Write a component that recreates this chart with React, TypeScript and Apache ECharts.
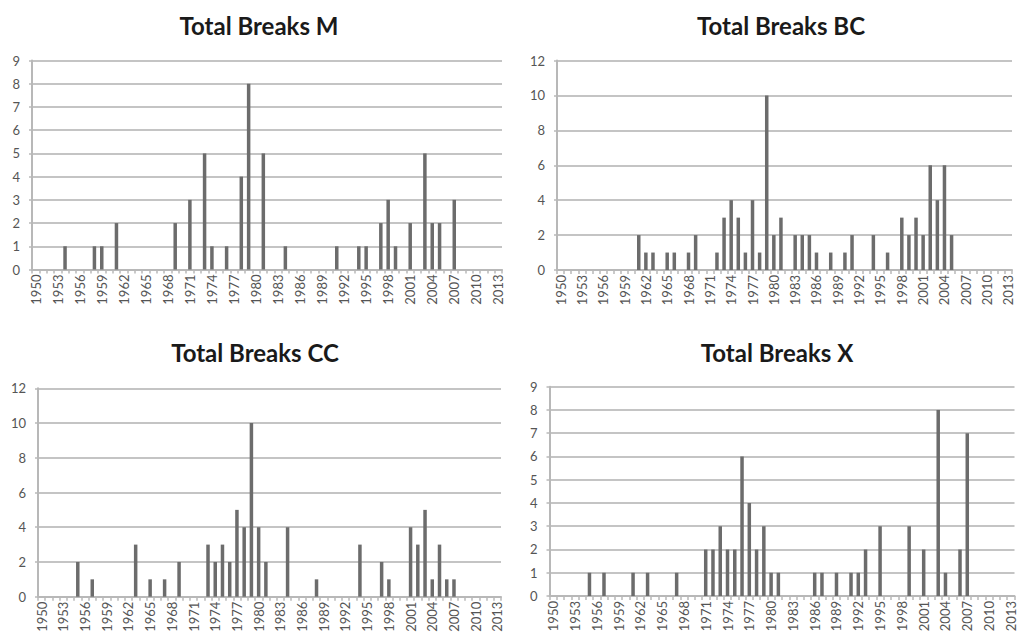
import React, { useEffect, useRef } from "react";
import * as echarts from "echarts";

const years: string[] = [
  "1950","1951","1952","1953","1954","1955","1956","1957","1958","1959",
  "1960","1961","1962","1963","1964","1965","1966","1967","1968","1969",
  "1970","1971","1972","1973","1974","1975","1976","1977","1978","1979",
  "1980","1981","1982","1983","1984","1985","1986","1987","1988","1989",
  "1990","1991","1992","1993","1994","1995","1996","1997","1998","1999",
  "2000","2001","2002","2003","2004","2005","2006","2007","2008","2009",
  "2010","2011","2012","2013",
];

const breaksM: number[] = [
  0,0,0,0,1,0,0,0,1,1,
  0,2,0,0,0,0,0,0,0,2,
  0,3,0,5,1,0,1,0,4,8,
  0,5,0,0,1,0,0,0,0,0,
  0,1,0,0,1,1,0,2,3,1,
  0,2,0,5,2,2,0,3,0,0,
  0,0,0,0,
];

const breaksBC: number[] = [
  0,0,0,0,0,0,0,0,0,0,
  0,2,1,1,0,1,1,0,1,2,
  0,0,1,3,4,3,1,4,1,10,
  2,3,0,2,2,2,1,0,1,0,
  1,2,0,0,2,0,1,0,3,2,
  3,2,6,4,6,2,0,0,0,0,
  0,0,0,0,
];

const breaksCC: number[] = [
  0,0,0,0,0,2,0,1,0,0,
  0,0,0,3,0,1,0,1,0,2,
  0,0,0,3,2,3,2,5,4,10,
  4,2,0,0,4,0,0,0,1,0,
  0,0,0,0,3,0,0,2,1,0,
  0,4,3,5,1,3,1,1,0,0,
  0,0,0,0,
];

const breaksX: number[] = [
  0,0,0,0,0,1,0,1,0,0,
  0,1,0,1,0,0,0,1,0,0,
  0,2,2,3,2,2,6,4,2,3,
  1,1,0,0,0,0,1,1,0,1,
  0,1,1,2,0,3,0,0,0,3,
  0,2,0,8,1,0,2,7,0,0,
  0,0,0,0,
];

const titles: string[] = ["Total Breaks M", "Total Breaks BC", "Total Breaks CC", "Total Breaks X"];
const yMax: number[] = [9, 12, 12, 9];
const yStep: number[] = [1, 2, 2, 1];

export default function App() {
  const ref = useRef<HTMLDivElement>(null);

  useEffect(() => {
    if (!ref.current) return;
    document.body.style.margin = "0";
    const chart = echarts.init(ref.current, undefined, { renderer: "svg" });

    const seriesData = [breaksM, breaksBC, breaksCC, breaksX];
    const grids = [
      { left: 32, top: 60.5, width: 470, height: 209 },
      { left: 557, top: 60.5, width: 455, height: 209.5 },
      { left: 38, top: 388.3, width: 463, height: 208.4 },
      { left: 549.5, top: 386.7, width: 465, height: 209.3 },
    ];
    const titlePos = [
      [259, 25],
      [781, 25],
      [255, 352],
      [777, 352],
    ];
    const font = "Lato, 'Open Sans', sans-serif";
    const lineGray = "#c4c4c4";
    const labelGray = "#555555";

    const option: any = {
      animation: false,
      backgroundColor: "#ffffff",
      grid: grids.map((g) => ({ ...g, containLabel: false })),
      graphic: titles.map((t, i) => ({
        type: "text",
        x: titlePos[i][0],
        y: titlePos[i][1],
        style: {
          text: t,
          fontFamily: font,
          fontWeight: "bold",
          fontSize: 24,
          fill: "#1a1a1a",
          textAlign: "center",
          textVerticalAlign: "middle",
        },
      })),
      xAxis: seriesData.map((_, i) => ({
        type: "category",
        gridIndex: i,
        data: years,
        boundaryGap: true,
        axisLine: { show: true, lineStyle: { color: "#b8b8b8", width: 2 } },
        axisTick: {
          show: true,
          interval: 0,
          length: 4,
          lineStyle: { color: "#b8b8b8", width: 1.5 },
        },
        axisLabel: {
          interval: 2,
          rotate: 90,
          fontSize: 13,
          color: labelGray,
          margin: 5,
          fontFamily: font,
        },
        splitLine: { show: false },
      })),
      yAxis: seriesData.map((_, i) => ({
        type: "value",
        gridIndex: i,
        min: 0,
        max: yMax[i],
        interval: yStep[i],
        axisLine: { show: true, lineStyle: { color: "#b8b8b8", width: 2 } },
        axisTick: { show: true, length: 3, lineStyle: { color: "#b8b8b8", width: 1.5 } },
        axisLabel: {
          fontSize: 13,
          color: labelGray,
          margin: 12,
          fontFamily: font,
        },
        splitLine: { show: true, lineStyle: { color: lineGray, width: 2 } },
      })),
      series: seriesData.map((d, i) => ({
        type: "bar",
        xAxisIndex: i,
        yAxisIndex: i,
        data: d,
        barWidth: 3.5,
        itemStyle: { color: "#6c6c6c" },
      })),
    };

    chart.setOption(option);
    return () => {
      chart.dispose();
    };
  }, []);

  return (
    <div
      ref={ref}
      style={{ position: "absolute", left: 0, top: 0, width: 1021, height: 637 }}
    />
  );
}
